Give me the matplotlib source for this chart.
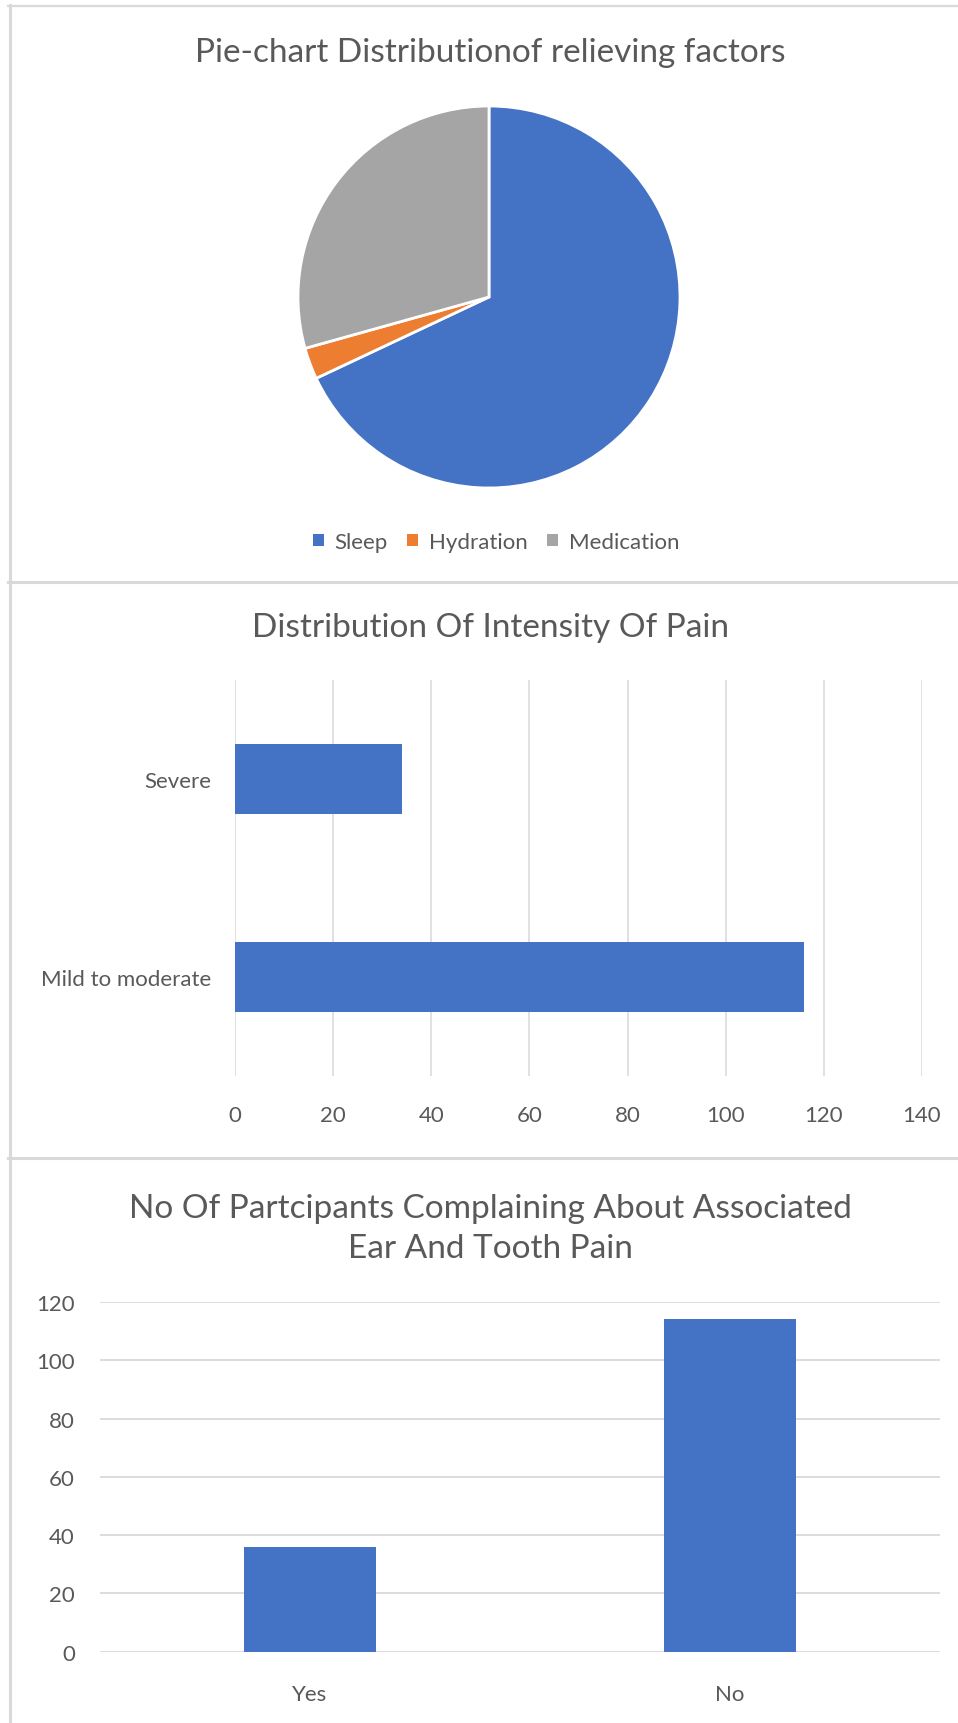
import matplotlib
matplotlib.use("Agg")
import matplotlib.pyplot as plt
from matplotlib.lines import Line2D
from matplotlib.patches import Patch

plt.rcParams['font.family'] = ['Lato', 'DejaVu Sans']

# ---- data ----
pie_labels = ["Sleep", "Hydration", "Medication"]
pie_values = [102, 4, 44]

intensity_cats = ["Mild to moderate", "Severe"]
intensity_vals = [116, 34]
intensity_ticks = [0, 20, 40, 60, 80, 100, 120, 140]

assoc_cats = ["Yes", "No"]
assoc_vals = [36, 114]
assoc_ticks = [0, 20, 40, 60, 80, 100, 120]

BLUE = "#4472C4"
ORANGE = "#ED7D31"
GRAY = "#A5A5A5"
TEXT = "#595959"
GRID = "#D9D9D9"

TITLE_FS = 24
LABEL_FS = 16

W, H = 958, 1724
fig = plt.figure(figsize=(W / 100, H / 100), dpi=100)


def rect(l, t, r, b):
    return [l / W, 1 - b / H, (r - l) / W, (b - t) / H]


def fx(x):
    return x / W


def fy(y):
    return 1 - y / H


# ---- panel borders ----
for (x0, y0, x1, y1, lw) in [
    (9.5, 6, 9.5, H, 2.2),
    (8, 7, W, 7, 1.6),
    (8, 582.5, W, 582.5, 2.2),
    (8, 1159, W, 1159, 2.2),
]:
    fig.add_artist(Line2D([fx(x0), fx(x1)], [fy(y0), fy(y1)], color=GRID, lw=lw))

# ---- Panel 1: pie ----
fig.text(fx(490), fy(53), "Pie-chart Distributionof relieving factors",
         ha="center", va="center", fontsize=TITLE_FS, color=TEXT)
ax1 = fig.add_axes(rect(298, 107, 680, 489))
ax1.pie(pie_values, colors=[BLUE, ORANGE, GRAY], startangle=90, counterclock=False,
        wedgeprops=dict(edgecolor="white", linewidth=2), radius=1.0)
ax1.set_xlim(-1.0, 1.0)
ax1.set_ylim(-1.0, 1.0)
ax1.set_aspect("equal")
ax1.axis("off")

handles = [Patch(facecolor=c, edgecolor="none") for c in [BLUE, ORANGE, GRAY]]
leg = fig.legend(handles, pie_labels, loc="center", bbox_to_anchor=(fx(496), fy(543)),
                 ncol=3, frameon=False, fontsize=LABEL_FS, handlelength=0.5, handleheight=0.5,
                 handletextpad=0.5, columnspacing=0.85)
for t in leg.get_texts():
    t.set_color(TEXT)

# ---- Panel 2: horizontal bar ----
fig.text(fx(490), fy(628), "Distribution Of Intensity Of Pain",
         ha="center", va="center", fontsize=TITLE_FS, color=TEXT)
ax2 = fig.add_axes(rect(235, 681, 922, 1077))
ax2.barh(range(len(intensity_cats)), intensity_vals, height=0.354, color=BLUE, zorder=3)
ax2.set_xlim(0, 140)
ax2.set_ylim(-0.5, 1.5)
ax2.set_xticks(intensity_ticks)
ax2.set_xticklabels([str(v) for v in intensity_ticks])
ax2.set_yticks(range(len(intensity_cats)))
ax2.set_yticklabels(intensity_cats)
ax2.grid(axis="x", color=GRID, lw=1.1, zorder=0)
for s in ax2.spines.values():
    s.set_visible(False)
ax2.tick_params(axis="x", length=0, pad=21, labelsize=LABEL_FS, labelcolor=TEXT)
ax2.tick_params(axis="y", length=0, pad=17, labelsize=LABEL_FS, labelcolor=TEXT)

# ---- Panel 3: vertical bar ----
fig.text(fx(490), fy(1229), "No Of Partcipants Complaining About Associated\nEar And Tooth Pain",
         ha="center", va="center", fontsize=TITLE_FS, color=TEXT, linespacing=1.45)
ax3 = fig.add_axes(rect(100, 1303, 940, 1652.6))
ax3.bar(range(len(assoc_cats)), assoc_vals, width=0.313, color=BLUE, zorder=3)
ax3.set_xlim(-0.5, 1.5)
ax3.set_ylim(0, 120)
ax3.set_yticks(assoc_ticks)
ax3.set_yticklabels([str(v) for v in assoc_ticks])
ax3.set_xticks(range(len(assoc_cats)))
ax3.set_xticklabels(assoc_cats)
ax3.grid(axis="y", color=GRID, lw=1.3, zorder=0)
ax3.set_axisbelow(True)
for s in ax3.spines.values():
    s.set_visible(False)
ax3.tick_params(axis="y", length=0, pad=18, labelsize=LABEL_FS, labelcolor=TEXT)
ax3.tick_params(axis="x", length=0, pad=23, labelsize=LABEL_FS, labelcolor=TEXT)

fig.savefig("out.png", dpi=100)
